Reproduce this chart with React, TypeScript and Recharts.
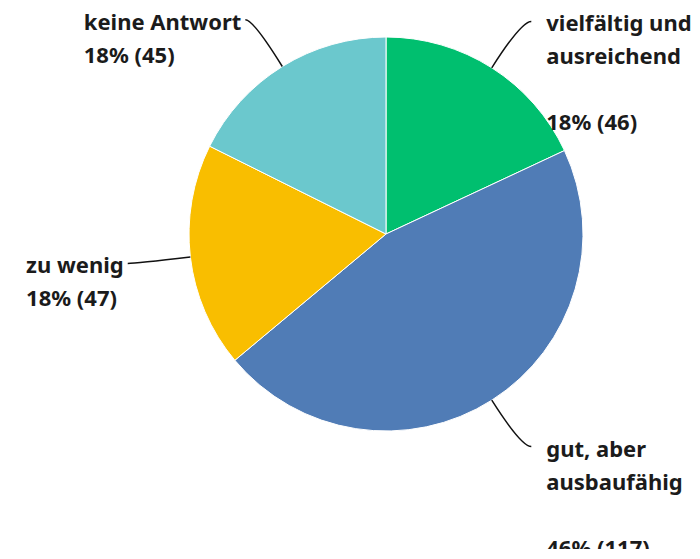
import React from 'react';
import { PieChart, Pie, Cell } from 'recharts';

const categories = ['vielfältig und\nausreichend', 'gut, aber\nausbaufähig', 'zu wenig', 'keine Antwort'];
const counts = [46, 117, 47, 45];
const colors = ['#00BF6F', '#507CB6', '#F9BE00', '#6BC8CD'];

const data = categories.map((name, i) => ({ name, value: counts[i] }));

const FONT = "'Noto Sans', sans-serif";
const FONT_SIZE = 22;
const FONT_WEIGHT = 700;
const LINE_H = 33;
const RADIAN = Math.PI / 180;

let ctx: CanvasRenderingContext2D | null = null;
const measure = (s: string) => {
  if (!ctx) ctx = document.createElement('canvas').getContext('2d');
  if (!ctx) return s.length * 11;
  ctx.font = `${FONT_WEIGHT} ${FONT_SIZE}px ${FONT}`;
  return ctx.measureText(s).width;
};

const renderLabel = (props: any) => {
  const { cx, cy, midAngle, outerRadius, percent, value, name } = props;
  const cos = Math.cos(-midAngle * RADIAN);
  const sin = Math.sin(-midAngle * RADIAN);
  const sx = cx + outerRadius * cos;
  const sy = cy + outerRadius * sin;
  const mx = cx + (outerRadius + 55) * cos;
  const my = cy + (outerRadius + 55) * sin;
  const right = cos >= 0;
  const ex = mx + (right ? 10 : -8);
  const ey = my;

  const lines: string[] = String(name).split('\n');
  if (lines.length > 1) lines.push('');
  lines.push(`${Math.round(percent * 100)}% (${value})`);

  const blockW = Math.max(...lines.map(measure));
  const tx = right ? ex + 15 : ex - 4 - blockW;

  return (
    <g>
      <path d={`M${sx},${sy}Q${mx},${my} ${ex},${ey}`} stroke="#111" strokeWidth={1.5} fill="none" />
      <text
        x={tx}
        y={ey + 10}
        fill="#1b1b1b"
        fontFamily={FONT}
        fontSize={FONT_SIZE}
        fontWeight={FONT_WEIGHT}
        textAnchor="start"
      >
        {lines.map((l, i) => (
          <tspan key={i} x={tx} dy={i === 0 ? 0 : LINE_H}>
            {l || '\u00a0'}
          </tspan>
        ))}
      </text>
    </g>
  );
};

export default function App() {
  return (
    <PieChart width={692} height={541} margin={{ top: 0, right: 0, bottom: 0, left: 0 }}>
      <Pie
        data={data}
        dataKey="value"
        nameKey="name"
        cx={378}
        cy={226}
        outerRadius={197}
        startAngle={90}
        endAngle={-270}
        stroke="#ffffff"
        strokeWidth={1}
        label={renderLabel}
        labelLine={false}
        isAnimationActive={false}
      >
        {data.map((_, i) => (
          <Cell key={i} fill={colors[i]} />
        ))}
      </Pie>
    </PieChart>
  );
}
